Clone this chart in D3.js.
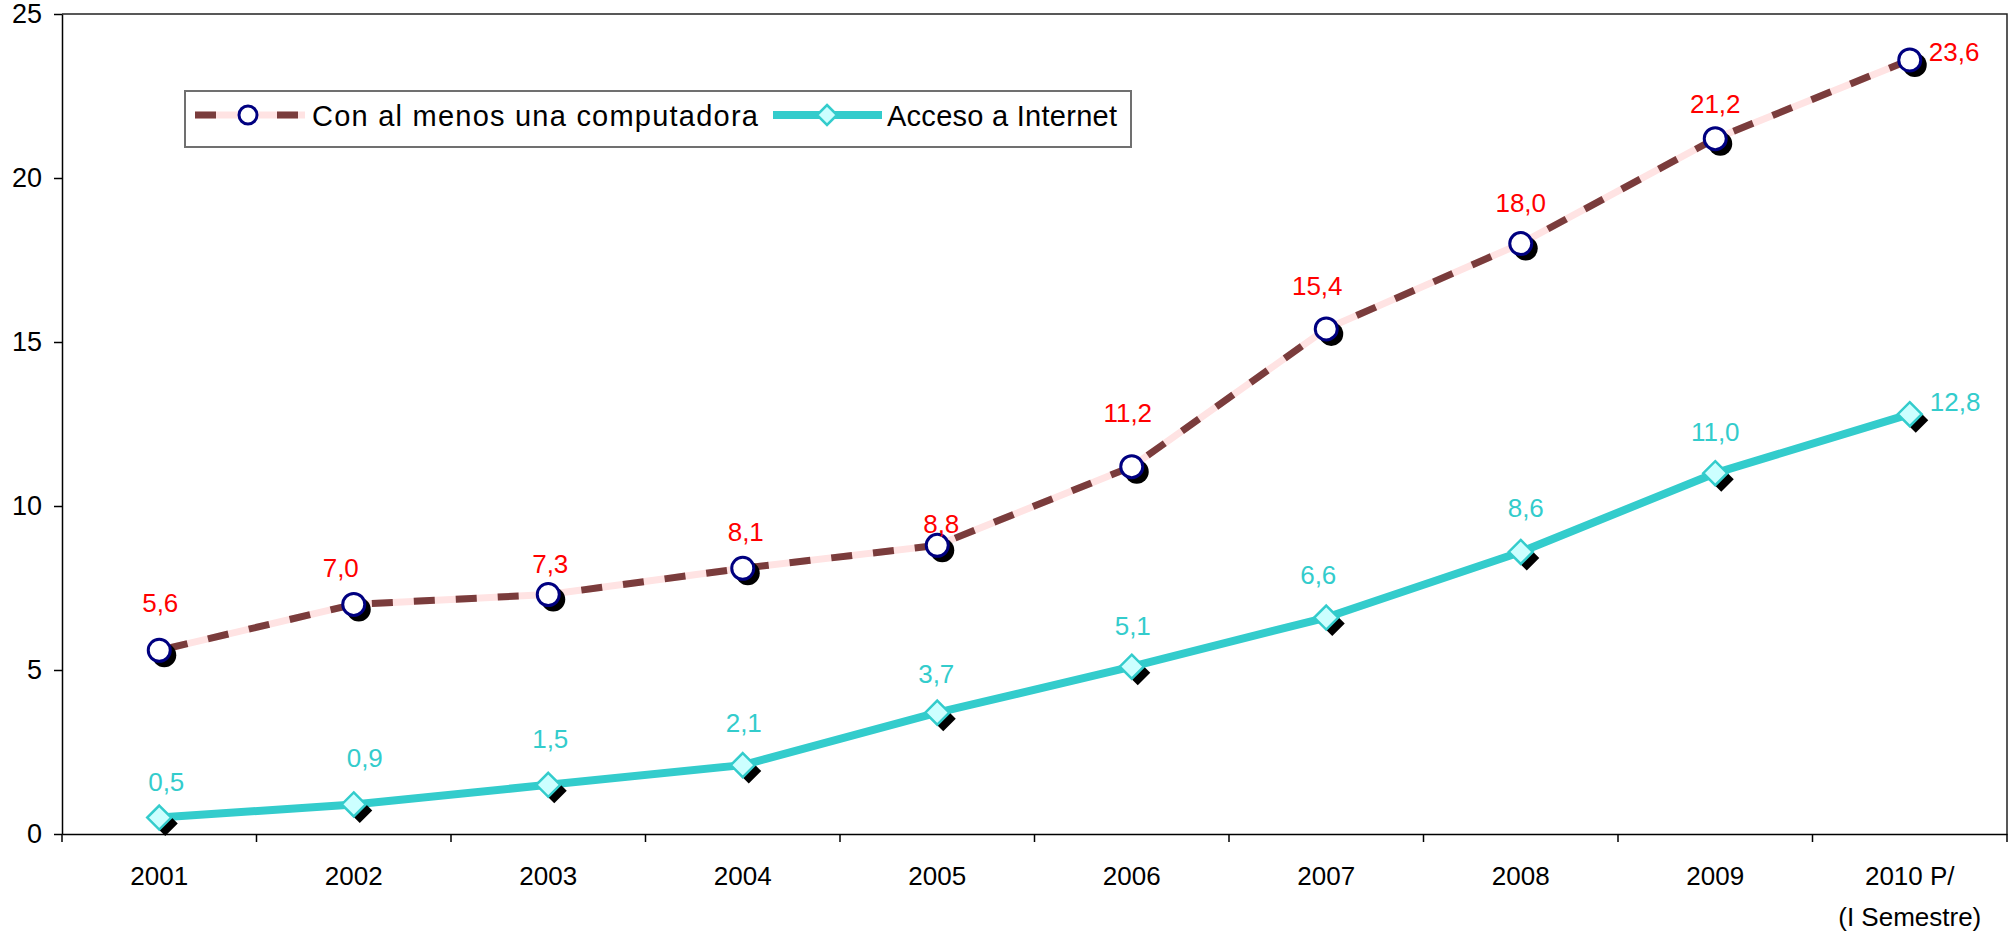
<!DOCTYPE html>
<html>
<head>
<meta charset="utf-8">
<script src="https://cdn.jsdelivr.net/npm/d3@7"></script>
<style>
  html, body { margin: 0; padding: 0; background: #fff; }
  svg { display: block; }
  text { font-family: "Liberation Sans", Arial, sans-serif; }
</style>
</head>
<body>
<svg id="chart" width="2008" height="937"></svg>
<script>
// ---- data ----
const categories = ["2001", "2002", "2003", "2004", "2005", "2006", "2007", "2008", "2009", "2010 P/\n(I Semestre)"];
const computadora = [5.6, 7.0, 7.3, 8.1, 8.8, 11.2, 15.4, 18.0, 21.2, 23.6];
const internet = [0.5, 0.9, 1.5, 2.1, 3.7, 5.1, 6.6, 8.6, 11.0, 12.8];
const yTicks = [0, 5, 10, 15, 20, 25];
const seriesNames = ["Con al menos una computadora", "Acceso a Internet"];

// label nudges (layout only, relative to the point)
const nudge1dx = [1, -13, 2, 3, 4, -4, -9, 0, 0, 19];
const nudge1dy = [-38, -27, -22, -27, -12, -45, -34, -32, -26, 1];
const nudge2dx = [7, 11, 2, 1, -1, 1, -8, 5, 0, 20];
const nudge2dy = [-27, -37, -37, -33, -30, -32, -34, -35, -32, -3];

const svg = d3.select("#chart");
const pLeft = 62, pRight = 2007, pTop = 14, pBottom = 834;

const x = d3.scaleBand().domain(categories).range([pLeft, pRight]).padding(0);
const y = d3.scaleLinear().domain([0, 25]).range([pBottom, pTop]);
const cx = c => x(c) + x.bandwidth() / 2;

const fmt = d3.formatLocale({decimal: ",", thousands: ".", grouping: [3], currency: ["", ""]}).format(".1f");

// plot border (top and right)
svg.append("path")
  .attr("d", `M${pLeft},${pTop}H${pRight}V${pBottom}`)
  .attr("fill", "none").attr("stroke", "#222").attr("stroke-width", 1.5);

// y axis
const yAxis = svg.append("g").attr("transform", `translate(${pLeft},0)`)
  .call(d3.axisLeft(y).tickValues(yTicks).tickSize(8).tickSizeOuter(0).tickPadding(12).tickFormat(d3.format("d")));
yAxis.select(".domain").attr("stroke", "#000").attr("stroke-width", 1.5);
yAxis.selectAll(".tick line").attr("stroke", "#000").attr("stroke-width", 1.5);
yAxis.selectAll(".tick text").attr("font-size", 27).attr("fill", "#000")
  .attr("font-family", "'Liberation Sans', Arial, sans-serif");

// x axis
const xAxis = svg.append("g").attr("transform", `translate(0,${pBottom})`)
  .call(d3.axisBottom(x).tickSize(0).tickSizeOuter(0).tickPadding(33));
xAxis.select(".domain").attr("stroke", "#000").attr("stroke-width", 1.5);
xAxis.selectAll(".tick text").each(function(d) {
  const t = d3.select(this);
  const lines = d.split("\n");
  t.text(null).attr("font-size", 26).attr("fill", "#000")
    .attr("font-family", "'Liberation Sans', Arial, sans-serif");
  lines.forEach((ln, i) => {
    t.append("tspan").attr("x", 0).attr("dy", i === 0 ? "0.71em" : 41).text(ln);
  });
});
// boundary ticks
svg.append("g").selectAll("line")
  .data(d3.range(categories.length + 1))
  .join("line")
  .attr("x1", i => pLeft + i * x.step()).attr("x2", i => pLeft + i * x.step())
  .attr("y1", pBottom).attr("y2", pBottom + 8)
  .attr("stroke", "#000").attr("stroke-width", 1.5);

// lines
const line = d3.line().x((d, i) => cx(categories[i])).y(d => y(d));

svg.append("path").datum(computadora).attr("d", line)
  .attr("fill", "none").attr("stroke", "#FFE3E3").attr("stroke-width", 7);
svg.append("path").datum(computadora).attr("d", line)
  .attr("fill", "none").attr("stroke", "#7A3C3C").attr("stroke-width", 7)
  .attr("stroke-dasharray", "21,21").attr("stroke-dashoffset", -8);

svg.append("path").datum(internet).attr("d", line)
  .attr("fill", "none").attr("stroke", "#33CCCC").attr("stroke-width", 8)
  .attr("stroke-linejoin", "round");

// markers series 1
const m1 = svg.append("g");
m1.selectAll("circle.sh").data(computadora).join("circle").attr("class", "sh")
  .attr("cx", (d, i) => cx(categories[i]) + 5).attr("cy", d => y(d) + 5)
  .attr("r", 12).attr("fill", "#000");
m1.selectAll("circle.mk").data(computadora).join("circle").attr("class", "mk")
  .attr("cx", (d, i) => cx(categories[i])).attr("cy", d => y(d))
  .attr("r", 11).attr("fill", "#fff").attr("stroke", "#000080").attr("stroke-width", 3);

// markers series 2
const diamond = s => `M0,${-s}L${s},0L0,${s}L${-s},0Z`;
const m2 = svg.append("g");
m2.selectAll("path.sh").data(internet).join("path").attr("class", "sh")
  .attr("transform", (d, i) => `translate(${cx(categories[i]) + 6},${y(d) + 6})`)
  .attr("d", diamond(12.5)).attr("fill", "#000");
m2.selectAll("path.mk").data(internet).join("path").attr("class", "mk")
  .attr("transform", (d, i) => `translate(${cx(categories[i])},${y(d)})`)
  .attr("d", diamond(12)).attr("fill", "#CCFFFF").attr("stroke", "#33CCCC").attr("stroke-width", 2.5);

// data labels
svg.append("g").selectAll("text").data(computadora).join("text")
  .attr("x", (d, i) => cx(categories[i]) + nudge1dx[i])
  .attr("y", (d, i) => y(d) + nudge1dy[i])
  .attr("text-anchor", (d, i) => i === computadora.length - 1 ? "start" : "middle")
  .attr("font-size", 26).attr("fill", "#FF0000")
  .text(d => fmt(d));
svg.append("g").selectAll("text").data(internet).join("text")
  .attr("x", (d, i) => cx(categories[i]) + nudge2dx[i])
  .attr("y", (d, i) => y(d) + nudge2dy[i])
  .attr("text-anchor", (d, i) => i === internet.length - 1 ? "start" : "middle")
  .attr("font-size", 26).attr("fill", "#33CCCC")
  .text(d => fmt(d));

// legend
const lg = svg.append("g");
lg.append("rect").attr("x", 185).attr("y", 91).attr("width", 946).attr("height", 56)
  .attr("fill", "#fff").attr("stroke", "#707070").attr("stroke-width", 2);
const ly = 115;
lg.append("line").attr("x1", 195).attr("x2", 305).attr("y1", ly).attr("y2", ly)
  .attr("stroke", "#FFE3E3").attr("stroke-width", 7);
lg.append("line").attr("x1", 195).attr("x2", 216).attr("y1", ly).attr("y2", ly)
  .attr("stroke", "#7A3C3C").attr("stroke-width", 7);
lg.append("line").attr("x1", 277).attr("x2", 298).attr("y1", ly).attr("y2", ly)
  .attr("stroke", "#7A3C3C").attr("stroke-width", 7);
lg.append("circle").attr("cx", 248).attr("cy", ly).attr("r", 9)
  .attr("fill", "#fff").attr("stroke", "#000080").attr("stroke-width", 3);
lg.append("text").attr("x", 312).attr("y", 126).attr("font-size", 29).attr("fill", "#000")
  .attr("textLength", 446).attr("lengthAdjust", "spacing")
  .text(seriesNames[0]);
lg.append("line").attr("x1", 773).attr("x2", 882).attr("y1", ly).attr("y2", ly)
  .attr("stroke", "#33CCCC").attr("stroke-width", 8);
lg.append("path").attr("transform", `translate(827,${ly})`).attr("d", diamond(10))
  .attr("fill", "#CCFFFF").attr("stroke", "#33CCCC").attr("stroke-width", 2.5);
lg.append("text").attr("x", 887).attr("y", 126).attr("font-size", 29).attr("fill", "#000")
  .attr("textLength", 230).attr("lengthAdjust", "spacing")
  .text(seriesNames[1]);
</script>
</body>
</html>
